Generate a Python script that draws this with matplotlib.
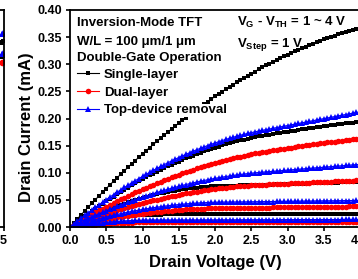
import numpy as np
import matplotlib
matplotlib.use('Agg')
import matplotlib.pyplot as plt

plt.rcParams['font.family'] = ['Liberation Sans', 'DejaVu Sans']
plt.rcParams['font.weight'] = 'bold'
plt.rcParams['mathtext.fontset'] = 'custom'
plt.rcParams['mathtext.rm'] = 'Liberation Sans'
plt.rcParams['mathtext.bf'] = 'Liberation Sans:bold'

# drain voltage sweep, 0.05 V steps
drain_v = np.linspace(0, 4, 81)

# Single-layer (black), VG-VTH = 4, 3, 2, 1 V
single_4v = [0, 0.0074, 0.0148, 0.0220, 0.0292, 0.0364, 0.0434, 0.0504, 0.0573, 0.0641,
             0.0709, 0.0776, 0.0842, 0.0908, 0.0973, 0.1037, 0.1100, 0.1163, 0.1225, 0.1286,
             0.1347, 0.1406, 0.1465, 0.1524, 0.1581, 0.1638, 0.1695, 0.1750, 0.1805, 0.1859,
             0.1912, 0.1965, 0.2017, 0.2068, 0.2118, 0.2168, 0.2217, 0.2265, 0.2313, 0.2360,
             0.2406, 0.2451, 0.2496, 0.2540, 0.2583, 0.2626, 0.2668, 0.2709, 0.2749, 0.2789,
             0.2828, 0.2866, 0.2904, 0.2941, 0.2977, 0.3012, 0.3047, 0.3081, 0.3114, 0.3147,
             0.3179, 0.3210, 0.3240, 0.3270, 0.3299, 0.3327, 0.3354, 0.3381, 0.3407, 0.3433,
             0.3457, 0.3481, 0.3504, 0.3527, 0.3549, 0.3570, 0.3590, 0.3610, 0.3628, 0.3647,
             0.3664]
single_3v = [0, 0.0051, 0.0101, 0.0151, 0.0199, 0.0247, 0.0295, 0.0341, 0.0387, 0.0432,
             0.0476, 0.0520, 0.0562, 0.0604, 0.0646, 0.0686, 0.0726, 0.0765, 0.0804, 0.0841,
             0.0878, 0.0914, 0.0950, 0.0984, 0.1018, 0.1052, 0.1084, 0.1116, 0.1147, 0.1177,
             0.1206, 0.1235, 0.1263, 0.1291, 0.1317, 0.1343, 0.1368, 0.1392, 0.1416, 0.1439,
             0.1461, 0.1482, 0.1503, 0.1523, 0.1542, 0.1560, 0.1578, 0.1595, 0.1611, 0.1627,
             0.1641, 0.1655, 0.1669, 0.1681, 0.1692, 0.1703, 0.1714, 0.1725, 0.1736, 0.1747,
             0.1758, 0.1768, 0.1778, 0.1788, 0.1798, 0.1808, 0.1818, 0.1828, 0.1838, 0.1847,
             0.1856, 0.1865, 0.1874, 0.1883, 0.1892, 0.1901, 0.1910, 0.1918, 0.1926, 0.1934,
             0.1942]
single_2v = [0, 0.0034, 0.0068, 0.0100, 0.0132, 0.0163, 0.0193, 0.0223, 0.0251, 0.0279,
             0.0306, 0.0333, 0.0358, 0.0383, 0.0407, 0.0430, 0.0452, 0.0474, 0.0495, 0.0515,
             0.0534, 0.0552, 0.0570, 0.0587, 0.0603, 0.0618, 0.0633, 0.0647, 0.0660, 0.0672,
             0.0683, 0.0694, 0.0703, 0.0713, 0.0721, 0.0728, 0.0735, 0.0741, 0.0746, 0.0750,
             0.0754, 0.0756, 0.0758, 0.0760, 0.0760, 0.0762, 0.0764, 0.0766, 0.0768, 0.0770,
             0.0772, 0.0774, 0.0776, 0.0778, 0.0780, 0.0782, 0.0783, 0.0785, 0.0787, 0.0789,
             0.0791, 0.0793, 0.0795, 0.0797, 0.0799, 0.0801, 0.0803, 0.0805, 0.0807, 0.0809,
             0.0811, 0.0813, 0.0815, 0.0817, 0.0819, 0.0821, 0.0822, 0.0824, 0.0826, 0.0828,
             0.0830]
single_1v = [0, 0.0019, 0.0037, 0.0054, 0.0070, 0.0086, 0.0101, 0.0115, 0.0128, 0.0140,
             0.0152, 0.0163, 0.0173, 0.0182, 0.0190, 0.0198, 0.0204, 0.0210, 0.0216, 0.0220,
             0.0224, 0.0226, 0.0228, 0.0230, 0.0230, 0.0230, 0.0231, 0.0231, 0.0231, 0.0232,
             0.0232, 0.0232, 0.0233, 0.0233, 0.0233, 0.0234, 0.0234, 0.0234, 0.0235, 0.0235,
             0.0235, 0.0236, 0.0236, 0.0236, 0.0237, 0.0237, 0.0237, 0.0238, 0.0238, 0.0238,
             0.0239, 0.0239, 0.0239, 0.0240, 0.0240, 0.0240, 0.0241, 0.0241, 0.0241, 0.0242,
             0.0242, 0.0242, 0.0243, 0.0243, 0.0243, 0.0244, 0.0244, 0.0244, 0.0245, 0.0245,
             0.0245, 0.0246, 0.0246, 0.0246, 0.0247, 0.0247, 0.0247, 0.0248, 0.0248, 0.0248,
             0.0249]

# Dual-layer (red)
dual_4v = [0, 0.0040, 0.0079, 0.0118, 0.0157, 0.0194, 0.0232, 0.0268, 0.0305, 0.0340,
           0.0375, 0.0410, 0.0444, 0.0478, 0.0511, 0.0543, 0.0575, 0.0606, 0.0637, 0.0668,
           0.0697, 0.0727, 0.0755, 0.0783, 0.0811, 0.0838, 0.0865, 0.0891, 0.0916, 0.0941,
           0.0966, 0.0990, 0.1013, 0.1036, 0.1058, 0.1080, 0.1101, 0.1122, 0.1142, 0.1162,
           0.1181, 0.1199, 0.1217, 0.1235, 0.1252, 0.1268, 0.1284, 0.1299, 0.1314, 0.1328,
           0.1342, 0.1355, 0.1368, 0.1380, 0.1391, 0.1402, 0.1413, 0.1424, 0.1435, 0.1445,
           0.1455, 0.1465, 0.1475, 0.1485, 0.1495, 0.1505, 0.1514, 0.1523, 0.1532, 0.1541,
           0.1550, 0.1559, 0.1567, 0.1575, 0.1583, 0.1591, 0.1599, 0.1607, 0.1615, 0.1623,
           0.1630]
dual_3v = [0, 0.0026, 0.0052, 0.0077, 0.0102, 0.0126, 0.0150, 0.0174, 0.0197, 0.0220,
           0.0242, 0.0264, 0.0285, 0.0306, 0.0326, 0.0346, 0.0366, 0.0385, 0.0403, 0.0422,
           0.0439, 0.0457, 0.0474, 0.0490, 0.0506, 0.0522, 0.0537, 0.0552, 0.0566, 0.0580,
           0.0593, 0.0606, 0.0619, 0.0631, 0.0642, 0.0654, 0.0664, 0.0675, 0.0685, 0.0694,
           0.0703, 0.0712, 0.0720, 0.0727, 0.0735, 0.0741, 0.0748, 0.0754, 0.0759, 0.0764,
           0.0769, 0.0773, 0.0777, 0.0780, 0.0783, 0.0786, 0.0789, 0.0792, 0.0795, 0.0798,
           0.0801, 0.0804, 0.0807, 0.0810, 0.0813, 0.0816, 0.0819, 0.0822, 0.0825, 0.0828,
           0.0831, 0.0834, 0.0837, 0.0840, 0.0843, 0.0846, 0.0849, 0.0852, 0.0855, 0.0858,
           0.0861]
dual_2v = [0, 0.0016, 0.0031, 0.0046, 0.0061, 0.0075, 0.0089, 0.0103, 0.0116, 0.0129,
           0.0141, 0.0153, 0.0165, 0.0176, 0.0187, 0.0198, 0.0208, 0.0218, 0.0228, 0.0237,
           0.0246, 0.0254, 0.0263, 0.0270, 0.0278, 0.0285, 0.0291, 0.0298, 0.0304, 0.0309,
           0.0315, 0.0319, 0.0324, 0.0328, 0.0332, 0.0335, 0.0338, 0.0341, 0.0344, 0.0346,
           0.0347, 0.0348, 0.0349, 0.0350, 0.0350, 0.0351, 0.0352, 0.0353, 0.0353, 0.0354,
           0.0355, 0.0356, 0.0357, 0.0358, 0.0358, 0.0359, 0.0360, 0.0361, 0.0362, 0.0363,
           0.0363, 0.0364, 0.0365, 0.0366, 0.0367, 0.0368, 0.0368, 0.0369, 0.0370, 0.0371,
           0.0372, 0.0373, 0.0373, 0.0374, 0.0375, 0.0376, 0.0377, 0.0378, 0.0378, 0.0379,
           0.0380]
dual_1v = [0, 0.0007, 0.0014, 0.0021, 0.0028, 0.0034, 0.0039, 0.0045, 0.0050, 0.0055,
           0.0059, 0.0064, 0.0068, 0.0071, 0.0074, 0.0077, 0.0080, 0.0082, 0.0084, 0.0086,
           0.0087, 0.0089, 0.0089, 0.0090, 0.0090, 0.0090, 0.0090, 0.0090, 0.0090, 0.0090,
           0.0090, 0.0090, 0.0090, 0.0090, 0.0090, 0.0090, 0.0091, 0.0091, 0.0091, 0.0091,
           0.0091, 0.0091, 0.0091, 0.0091, 0.0091, 0.0091, 0.0091, 0.0092, 0.0092, 0.0092,
           0.0092, 0.0092, 0.0092, 0.0092, 0.0092, 0.0092, 0.0092, 0.0092, 0.0093, 0.0093,
           0.0093, 0.0093, 0.0093, 0.0093, 0.0093, 0.0093, 0.0093, 0.0093, 0.0093, 0.0094,
           0.0094, 0.0094, 0.0094, 0.0094, 0.0094, 0.0094, 0.0094, 0.0094, 0.0094, 0.0094,
           0.0094]

# Top-device removal (blue)
removal_4v = [0, 0.0054, 0.0107, 0.0160, 0.0212, 0.0263, 0.0313, 0.0362, 0.0411, 0.0459,
              0.0506, 0.0552, 0.0597, 0.0642, 0.0686, 0.0729, 0.0771, 0.0813, 0.0853, 0.0893,
              0.0932, 0.0971, 0.1008, 0.1045, 0.1081, 0.1116, 0.1150, 0.1184, 0.1217, 0.1249,
              0.1280, 0.1311, 0.1340, 0.1369, 0.1397, 0.1425, 0.1451, 0.1477, 0.1502, 0.1526,
              0.1549, 0.1572, 0.1594, 0.1615, 0.1635, 0.1654, 0.1673, 0.1691, 0.1708, 0.1724,
              0.1739, 0.1754, 0.1768, 0.1781, 0.1794, 0.1806, 0.1819, 0.1832, 0.1845, 0.1857,
              0.1870, 0.1883, 0.1895, 0.1908, 0.1921, 0.1933, 0.1946, 0.1959, 0.1972, 0.1984,
              0.1997, 0.2010, 0.2022, 0.2035, 0.2048, 0.2060, 0.2073, 0.2086, 0.2098, 0.2111,
              0.2124]
removal_3v = [0, 0.0032, 0.0064, 0.0096, 0.0127, 0.0157, 0.0187, 0.0216, 0.0245, 0.0273,
              0.0301, 0.0329, 0.0355, 0.0382, 0.0407, 0.0433, 0.0457, 0.0482, 0.0505, 0.0528,
              0.0551, 0.0573, 0.0595, 0.0616, 0.0637, 0.0657, 0.0676, 0.0695, 0.0714, 0.0732,
              0.0749, 0.0766, 0.0783, 0.0799, 0.0814, 0.0829, 0.0844, 0.0857, 0.0871, 0.0884,
              0.0896, 0.0908, 0.0919, 0.0930, 0.0940, 0.0950, 0.0959, 0.0968, 0.0976, 0.0984,
              0.0991, 0.0998, 0.1004, 0.1010, 0.1015, 0.1021, 0.1026, 0.1031, 0.1037, 0.1042,
              0.1048, 0.1053, 0.1059, 0.1064, 0.1069, 0.1075, 0.1080, 0.1086, 0.1091, 0.1096,
              0.1102, 0.1107, 0.1113, 0.1118, 0.1123, 0.1129, 0.1134, 0.1140, 0.1145, 0.1150,
              0.1156]
removal_2v = [0, 0.0021, 0.0041, 0.0061, 0.0080, 0.0099, 0.0117, 0.0135, 0.0152, 0.0169,
              0.0185, 0.0201, 0.0217, 0.0232, 0.0246, 0.0260, 0.0274, 0.0287, 0.0299, 0.0312,
              0.0323, 0.0334, 0.0345, 0.0355, 0.0365, 0.0374, 0.0383, 0.0391, 0.0399, 0.0407,
              0.0413, 0.0420, 0.0426, 0.0431, 0.0436, 0.0441, 0.0445, 0.0448, 0.0451, 0.0454,
              0.0456, 0.0458, 0.0459, 0.0460, 0.0460, 0.0461, 0.0462, 0.0463, 0.0463, 0.0464,
              0.0465, 0.0466, 0.0467, 0.0468, 0.0468, 0.0469, 0.0470, 0.0471, 0.0472, 0.0473,
              0.0473, 0.0474, 0.0475, 0.0476, 0.0477, 0.0478, 0.0478, 0.0479, 0.0480, 0.0481,
              0.0482, 0.0483, 0.0483, 0.0484, 0.0485, 0.0486, 0.0487, 0.0488, 0.0488, 0.0489,
              0.0490]
removal_1v = [0, 0.0011, 0.0021, 0.0030, 0.0040, 0.0049, 0.0057, 0.0065, 0.0072, 0.0079,
              0.0086, 0.0092, 0.0098, 0.0103, 0.0107, 0.0112, 0.0116, 0.0119, 0.0122, 0.0124,
              0.0126, 0.0128, 0.0129, 0.0130, 0.0130, 0.0130, 0.0130, 0.0130, 0.0130, 0.0130,
              0.0131, 0.0131, 0.0131, 0.0131, 0.0131, 0.0131, 0.0132, 0.0132, 0.0132, 0.0132,
              0.0132, 0.0133, 0.0133, 0.0133, 0.0133, 0.0133, 0.0133, 0.0134, 0.0134, 0.0134,
              0.0134, 0.0134, 0.0135, 0.0135, 0.0135, 0.0135, 0.0135, 0.0135, 0.0136, 0.0136,
              0.0136, 0.0136, 0.0136, 0.0137, 0.0137, 0.0137, 0.0137, 0.0137, 0.0137, 0.0138,
              0.0138, 0.0138, 0.0138, 0.0138, 0.0138, 0.0139, 0.0139, 0.0139, 0.0139, 0.0139,
              0.0139]

series_labels = ['Single-layer', 'Dual-layer', 'Top-device removal']

# neighbouring panel (only its right edge is in view)
side_v = [4.85, 4.9, 4.95]
side_black = [[0.340, 0.341, 0.342], [0.314, 0.315, 0.316]]
side_red = [[0.303, 0.304, 0.305]]
side_blue = [[0.355, 0.356, 0.357], [0.318, 0.319, 0.320]]

W, H = 358, 279
fig = plt.figure(figsize=(W / 100, H / 100), dpi=100)
x0, x1, y0, y1 = 70, 360, 10, 227
ax = fig.add_axes([x0 / W, 1 - y1 / H, (x1 - x0) / W, (y1 - y0) / H])

styles = [('black', 's', 3.5), ('red', 'o', 4.0), ('blue', '^', 4.4)]
groups = [[single_4v, single_3v, single_2v, single_1v],
          [dual_4v, dual_3v, dual_2v, dual_1v],
          [removal_4v, removal_3v, removal_2v, removal_1v]]
handles = []
for (color, marker, ms), curves, label in zip(styles, groups, series_labels):
    for i, curve in enumerate(curves):
        ln, = ax.plot(drain_v, curve, color=color, marker=marker, markersize=ms,
                      markeredgewidth=0, linewidth=0.8)
        if i == 0:
            handles.append(ln)

ax.set_xlim(0, 4.0)
ax.set_ylim(0, 0.40)
ax.set_xticks(np.arange(0, 4.01, 0.5))
ax.set_yticks(np.arange(0, 0.401, 0.05))
ax.xaxis.set_major_formatter(matplotlib.ticker.FormatStrFormatter('%.1f'))
ax.yaxis.set_major_formatter(matplotlib.ticker.FormatStrFormatter('%.2f'))
ax.tick_params(direction='out', length=3, width=1.2, labelsize=9, pad=3)
for s in ax.spines.values():
    s.set_linewidth(1.3)

fig.text(27 / W, 1 - 127 / H, 'Drain Current (mA)', rotation=90, ha='center', va='center',
         fontsize=12, fontweight='bold')
fig.text(215 / W, 1 - 263 / H, 'Drain Voltage (V)', ha='center', va='center',
         fontsize=12, fontweight='bold')

def px(xp, yp):
    return ((xp - x0) / (x1 - x0), (y1 - yp) / (y1 - y0))

tkw = dict(transform=ax.transAxes, fontsize=9.5, fontweight='bold', va='baseline')
ax.text(*px(77, 25.5), 'Inversion-Mode TFT', **tkw)
ax.text(*px(77, 44.5), 'W/L = 100 \u03bcm/1 \u03bcm', **tkw)
ax.text(*px(77, 61.5), 'Double-Gate Operation', **tkw)
ax.text(*px(237, 25.5), r'V$_\mathbf{G}$ - V$_\mathbf{TH}$ = 1 ~ 4 V', **tkw)
ax.text(*px(237, 46.5), r'V$_\mathbf{Step}$ = 1 V', **tkw)

leg = ax.legend(handles, series_labels, loc='upper left', bbox_to_anchor=px(77, 68.5),
                frameon=False, fontsize=9.5, handlelength=1.7, handletextpad=0.35,
                labelspacing=0.42, borderpad=0, borderaxespad=0)
for t in leg.get_texts():
    t.set_bbox(dict(facecolor='white', edgecolor='none', pad=0.5))

# right edge of the neighbouring panel
sx0, sx1 = -60, 3.5
side = fig.add_axes([sx0 / W, 1 - y1 / H, (sx1 - sx0) / W, (y1 - y0) / H])
side.set_xlim(0, 5)
side.set_ylim(0, 0.40)
for vals in side_black:
    side.plot(side_v, vals, color='black', marker='s', markersize=3.5, markeredgewidth=0, lw=0.8)
for vals in side_red:
    side.plot(side_v, vals, color='red', marker='o', markersize=4.0, markeredgewidth=0, lw=0.8)
for vals in side_blue:
    side.plot(side_v, vals, color='blue', marker='^', markersize=4.4, markeredgewidth=0, lw=0.8)
side.set_xticks([5])
side.set_xticklabels(['5'])
side.set_yticks([])
side.tick_params(direction='out', length=3, width=1.2, labelsize=9, pad=3)
for s in side.spines.values():
    s.set_linewidth(1.3)

fig.savefig('out.png', dpi=100)
